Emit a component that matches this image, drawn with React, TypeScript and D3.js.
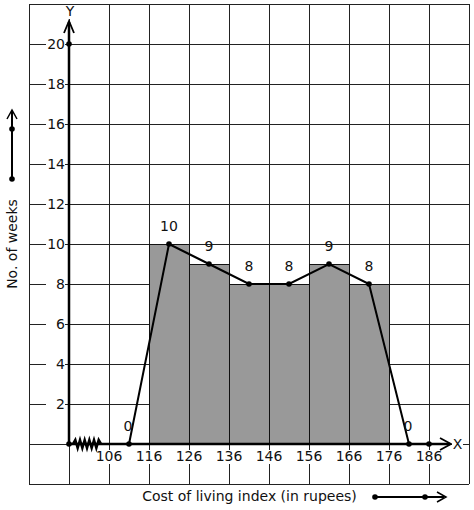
import React from "react";
import * as d3 from "d3";

const classStarts = [116, 126, 136, 146, 156, 166];
const frequencies = [10, 9, 8, 8, 9, 8];
const classWidth = 10;
const polygonX = [111, 121, 131, 141, 151, 161, 171, 181];
const polygonY = [0, 10, 9, 8, 8, 9, 8, 0];
const xTicks = [106, 116, 126, 136, 146, 156, 166, 176, 186];
const yTicks = [2, 4, 6, 8, 10, 12, 14, 16, 18, 20];
const xGrid = d3.range(86, 197, 10);
const yGrid = d3.range(-2, 23, 2);

const W = 474;
const H = 510;
const FONT = "DejaVu Sans, sans-serif";

export default function App() {
  const x = d3.scaleLinear().domain([86, 196]).range([29, 469]);
  const y = d3.scaleLinear().domain([-2, 22]).range([484, 4]);
  const x0 = x(96);
  const y0 = y(0);
  const line = d3
    .line<number>()
    .x((_, i) => x(polygonX[i]))
    .y((d) => y(d));

  // zigzag break on x-axis
  const zz: [number, number][] = [];
  const zStart = x0 + 4;
  const zEnd = x(104);
  const n = 12;
  for (let i = 0; i <= n; i++) {
    const px = zStart + ((zEnd - zStart) * i) / n;
    zz.push([px, y0 + (i === 0 || i === n ? 0 : i % 2 === 1 ? -4 : 4)]);
  }

  return (
    <svg
      width={W}
      height={H}
      style={{ position: "absolute", left: 0, top: 0, background: "#fff" }}
      fontFamily={FONT}
      fontSize={14}
    >
      <rect x={0} y={0} width={W} height={H} fill="#fff" />
      {/* grid */}
      {xGrid.map((v) => (
        <line key={"gx" + v} x1={x(v) + 0.5} x2={x(v) + 0.5} y1={4} y2={484} stroke="#222" strokeWidth={1} />
      ))}
      {yGrid.map((v) => (
        <line key={"gy" + v} x1={29} x2={469} y1={y(v) + 0.5} y2={y(v) + 0.5} stroke="#222" strokeWidth={1} />
      ))}
      {/* bars */}
      {classStarts.map((s, i) => (
        <rect
          key={"b" + i}
          x={x(s) + 0.5}
          y={y(frequencies[i]) + 0.5}
          width={x(s + classWidth) - x(s)}
          height={y0 - y(frequencies[i])}
          fill="#999999"
          stroke="#111"
          strokeWidth={1}
        />
      ))}
      {/* y tick labels */}
      {yTicks.map((v) => (
        <g key={"yl" + v}>
          <rect x={46} y={y(v) - 7} width={19} height={14} fill="#fff" />
          <text x={65} y={y(v) + 5} textAnchor="end" fill="#111">
            {v}
          </text>
        </g>
      ))}
      {/* x tick labels */}
      {xTicks.map((v) => (
        <g key={"xl" + v}>
          <rect x={x(v) - 13} y={y0 + 6} width={26} height={14} fill="#fff" />
          <text x={x(v)} y={y0 + 17} textAnchor="middle" fill="#111">
            {v}
          </text>
        </g>
      ))}
      {/* axes */}
      <line x1={x0} x2={x0} y1={y0} y2={22} stroke="#000" strokeWidth={2.5} />
      <path d={`M${x0 - 5},${33} L${x0},${21} L${x0 + 5},${33}`} fill="none" stroke="#000" strokeWidth={1.8} />
      <line x1={x0} x2={450} y1={y0} y2={y0} stroke="#000" strokeWidth={2.5} />
      <path d={`M${440},${y0 - 6} L${451},${y0} L${440},${y0 + 6}`} fill="none" stroke="#000" strokeWidth={1.8} />
      <rect x={63} y={5} width={14} height={14} fill="#fff" />
      <text x={x0 + 1} y={16} textAnchor="middle" fill="#111">Y</text>
      <rect x={452} y={y0 - 7} width={11} height={14} fill="#fff" />
      <text x={457.5} y={y0 + 5} textAnchor="middle" fill="#111">X</text>
      <path d={d3.line()(zz) || ""} fill="none" stroke="#000" strokeWidth={2.5} />
      <circle cx={x0} cy={y0} r={2.8} fill="#000" />
      <circle cx={x0} cy={y(20)} r={2.8} fill="#000" />
      <circle cx={x(186)} cy={y0} r={2.8} fill="#000" />
      {/* frequency polygon */}
      <path d={line(polygonY) || ""} fill="none" stroke="#000" strokeWidth={2} />
      {polygonY.map((v, i) => (
        <circle key={"p" + i} cx={x(polygonX[i])} cy={y(v)} r={2.8} fill="#000" />
      ))}
      {polygonY.map((v, i) => (
        <text key={"pl" + i} x={x(polygonX[i]) - (v === 0 ? 1 : 0)} y={y(v) - 13} textAnchor="middle" fill="#111">
          {v}
        </text>
      ))}
      {/* y label with arrow */}
      <line x1={12} x2={12} y1={179} y2={111} stroke="#000" strokeWidth={2} />
      <path d="M7,119 L12,110 L17,119" fill="none" stroke="#000" strokeWidth={1.5} />
      <circle cx={12} cy={129} r={2.8} fill="#000" />
      <circle cx={12} cy={179} r={2.8} fill="#000" />
      <text transform="translate(17,244) rotate(-90)" textAnchor="middle" fill="#111">
        No. of weeks
      </text>
      {/* x label with arrow */}
      <text x={249.5} y={501} textAnchor="middle" fill="#111">
        Cost of living index (in rupees)
      </text>
      <line x1={375} x2={444} y1={497} y2={497} stroke="#000" strokeWidth={2} />
      <path d="M437,492 L446,497 L437,502" fill="none" stroke="#000" strokeWidth={1.5} />
      <circle cx={375} cy={497} r={2.8} fill="#000" />
      <circle cx={425} cy={497} r={2.8} fill="#000" />
    </svg>
  );
}
